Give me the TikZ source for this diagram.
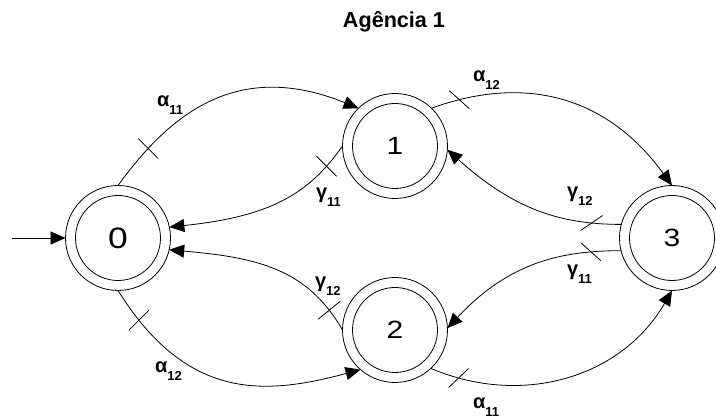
\documentclass[tikz,border=0pt]{standalone}
\usepackage{fontspec}
\usepackage{graphicx}
\setmainfont{Liberation Sans}
\usetikzlibrary{arrows.meta,calc}
\newcommand{\edgelab}[2]{\textbf{#1}\raisebox{-7.5pt}{\fontsize{13}{13}\selectfont\bfseries #2}}
\begin{document}
\begin{tikzpicture}[x=1pt,y=1pt,
  every node/.style={inner sep=0pt, outer sep=0pt},
  outerc/.style={circle, draw, line width=0.8pt, minimum size=105pt},
  innerc/.style={circle, draw, line width=0.8pt, minimum size=85pt},
  conn/.style={line width=0.8pt, -{Triangle[length=15pt,width=13pt]}},
  tickmark/.style={line width=0.8pt},
  lbl/.style={anchor=base west, font=\fontsize{20}{20}\selectfont\bfseries},
  digit/.style={font=\fontsize{25}{25}\selectfont}
]
\useasboundingbox (0,0) rectangle (716,419);

% title
\node[anchor=base, font=\fontsize{21.6}{21.6}\selectfont\bfseries] (title) at (394,391) {Agência 1};

% states
\node[outerc] (n0) at (118,181) {};
\node[innerc, font=\fontsize{29.5}{29.5}\selectfont] (n0i) at (118,181) {\scalebox{1.2}[1]{0}};
\node[outerc] (n1) at (395,273) {};
\node[innerc, digit] (n1i) at (395,273) {\scalebox{1.2}[1]{1}};
\node[outerc] (n2) at (395,89) {};
\node[innerc, digit] (n2i) at (395,89) {\scalebox{1.2}[1]{2}};
\node[outerc] (n3) at (672,181) {};
\node[innerc, digit] (n3i) at (672,181) {\scalebox{1.2}[1]{3}};

% initial arrow
\coordinate (init) at (12,181);
\draw[conn] (init) -- (n0.west);

% transitions
\draw[conn] (n0.north) .. controls +(54:90) and +(158:130) .. (n1.134) coordinate[pos=0.18] (t1);
\draw[conn] (n1.west) .. controls +(235:60) and +(6:100) .. (n0.12) coordinate[pos=0.15] (t2);
\draw[conn] (n1.46) .. controls +(20:100) and +(126:110) .. (n3.north) coordinate[pos=0.1] (t3);
\draw[conn] (n3.165) .. controls +(180:60) and +(318:90) .. (n1.-4) coordinate[pos=0.17] (t4);
\draw[conn] (n3.194) .. controls +(180:60) and +(47:90) .. (n2.2) coordinate[pos=0.17] (t5);
\draw[conn] (n2.west) .. controls +(120:70) and +(-5:90) .. (n0.-13) coordinate[pos=0.12] (t6);
\draw[conn] (n0.south) .. controls +(-58:130) and +(195:100) .. (n2.229) coordinate[pos=0.1] (t7);
\draw[conn] (n2.-47) .. controls +(-23:100) and +(240:100) .. (n3.south) coordinate[pos=0.1] (t8);

% tick marks
\draw[tickmark] ($(t1)+(-10,10)$) -- ($(t1)+(10,-10)$);
\draw[tickmark] ($(t2)+(-10,10)$) -- ($(t2)+(10,-10)$);
\draw[tickmark] ($(t3)+(-10,9)$) -- ($(t3)+(10,-9)$);
\draw[tickmark] ($(t4)+(-11,-7.5)$) -- ($(t4)+(11,7.5)$);
\draw[tickmark] ($(t5)+(-10,9)$) -- ($(t5)+(10,-9)$);
\draw[tickmark] ($(t6)+(-11,-9)$) -- ($(t6)+(11,9)$);
\draw[tickmark] ($(t7)+(-10,-10)$) -- ($(t7)+(10,10)$);
\draw[tickmark] ($(t8)+(-10,-9.5)$) -- ($(t8)+(10,9.5)$);

% labels
\node[lbl] (l1) at (157,312) {\edgelab{α}{11}};
\node[lbl] (l2) at (316,220) {\edgelab{γ}{11}};
\node[lbl] (l3) at (473,337) {\edgelab{α}{12}};
\node[lbl] (l4) at (567,221) {\edgelab{γ}{12}};
\node[lbl] (l5) at (567,143) {\edgelab{γ}{11}};
\node[lbl] (l6) at (315,131) {\edgelab{γ}{12}};
\node[lbl] (l7) at (155,46) {\edgelab{α}{12}};
\node[lbl] (l8) at (473,10) {\edgelab{α}{11}};
\end{tikzpicture}
\end{document}
